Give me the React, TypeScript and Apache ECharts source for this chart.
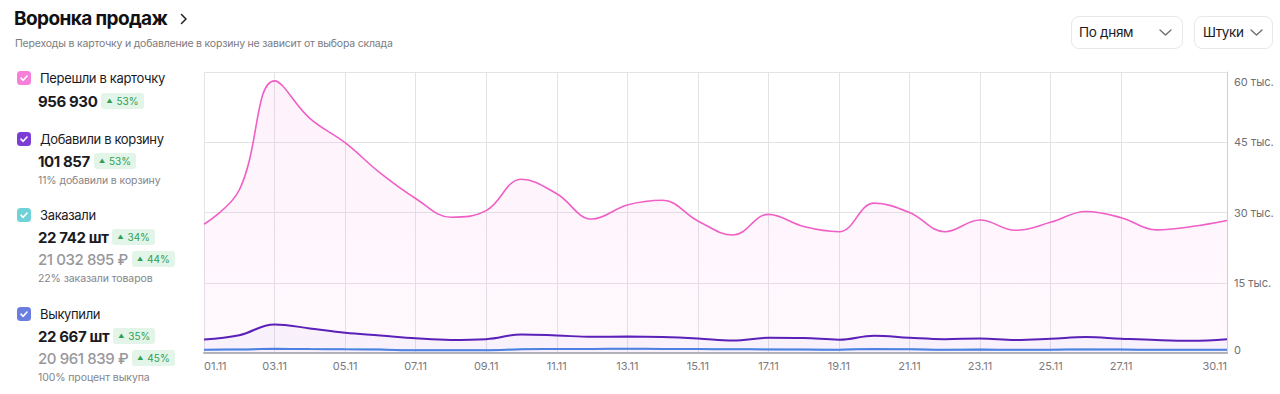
import React, { useEffect, useRef } from "react";
import * as echarts from "echarts";

const categories = [
  "01.11", "02.11", "03.11", "04.11", "05.11", "06.11", "07.11", "08.11", "09.11", "10.11",
  "11.11", "12.11", "13.11", "14.11", "15.11", "16.11", "17.11", "18.11", "19.11", "20.11",
  "21.11", "22.11", "23.11", "24.11", "25.11", "26.11", "27.11", "28.11", "29.11", "30.11",
];

const visitedCard = [
  27500, 34800, 58100, 50100, 44900, 38400, 33000, 29000, 30400, 37100,
  34000, 28600, 31600, 32600, 28200, 25200, 29600, 27000, 25900, 32000,
  30000, 25900, 28400, 26200, 27900, 30200, 28900, 26300, 27000, 28300,
];

const addedToCart = [
  2900, 3800, 6100, 5250, 4300, 3750, 3150, 2800, 2950, 3950,
  3750, 3450, 3500, 3400, 3100, 2650, 3250, 3200, 2850, 3700,
  3250, 2950, 3100, 2800, 3050, 3400, 3050, 2750, 2600, 2950,
];

const ordered = [
  720, 750, 900, 850, 800, 750, 600, 600, 620, 800,
  850, 880, 900, 880, 850, 800, 780, 750, 720, 850,
  800, 720, 740, 700, 720, 780, 740, 700, 680, 700,
];

const bought = [
  710, 740, 890, 840, 790, 740, 590, 600, 610, 790,
  840, 870, 890, 870, 840, 790, 770, 740, 710, 840,
  790, 710, 730, 700, 710, 770, 730, 690, 670, 690,
];

const yTicks = [0, 15000, 30000, 45000, 60000];

const FONT = "Inter, 'Noto Sans', sans-serif";

const showIdx = (i: number) => (i % 2 === 0 && i <= 26) || i === 29;

function Chart() {
  const ref = useRef<HTMLDivElement>(null);
  useEffect(() => {
    if (!ref.current) return;
    const chart = echarts.init(ref.current, undefined, { renderer: "svg" });
    chart.setOption({
      animation: false,
      textStyle: { fontFamily: FONT },
      grid: { left: 204, right: 53, top: 72, bottom: 41 },
      xAxis: {
        type: "category",
        data: categories,
        boundaryGap: false,
        axisLine: { show: true, lineStyle: { color: "#b5b5b8", width: 2 } },
        axisTick: { show: false },
        axisLabel: {
          interval: (i: number) => showIdx(i),
          color: "#7a7a80",
          fontSize: 11,
          margin: 7,
          fontFamily: FONT,
          alignMinLabel: "left",
          alignMaxLabel: "right",
        },
        splitLine: {
          show: true,
          interval: (i: number) => showIdx(i) && i !== 29,
          lineStyle: { color: "#e3e3e6", width: 1 },
        },
      },
      yAxis: {
        type: "value",
        position: "right",
        min: yTicks[0],
        max: yTicks[yTicks.length - 1],
        interval: 15000,
        axisLine: { show: true, lineStyle: { color: "#cfcfd3", width: 1 } },
        axisTick: { show: false },
        splitLine: { show: true, lineStyle: { color: "#e3e3e6", width: 1 } },
        axisLabel: {
          color: "#6f6f75",
          fontSize: 11,
          margin: 7,
          fontFamily: FONT,
          formatter: (v: number) => {
            if (v === 0) return "{bot|0}";
            if (v === 60000) return "{top|60 тыс.}";
            return v / 1000 + " тыс.";
          },
          rich: {
            top: { padding: [20, 0, 0, 0], color: "#6f6f75", fontSize: 11, fontFamily: FONT },
            bot: { padding: [0, 0, 7, 0], color: "#6f6f75", fontSize: 11, fontFamily: FONT },
          },
        },
      },
      series: [
        {
          name: "Перешли в карточку",
          type: "line",
          data: visitedCard,
          smooth: 0.4,
          symbol: "none",
          lineStyle: { color: "#ef5fc6", width: 1.6 },
          itemStyle: { color: "#ef5fc6" },
          areaStyle: {
            color: new echarts.graphic.LinearGradient(0, 0, 0, 1, [
              { offset: 0, color: "rgba(245,120,215,0.14)" },
              { offset: 1, color: "rgba(245,120,215,0.06)" },
            ]),
          },
          z: 2,
        },
        {
          name: "Добавили в корзину",
          type: "line",
          data: addedToCart,
          smooth: 0.4,
          symbol: "none",
          lineStyle: { color: "#5b20b8", width: 2 },
          itemStyle: { color: "#5b20b8" },
          areaStyle: { color: "rgba(150,110,225,0.08)" },
          z: 3,
        },
        {
          name: "Заказали",
          type: "line",
          data: ordered,
          smooth: 0.4,
          symbol: "none",
          lineStyle: { color: "#62cdd4", width: 1.5 },
          itemStyle: { color: "#62cdd4" },
          z: 4,
        },
        {
          name: "Выкупили",
          type: "line",
          data: bought,
          smooth: 0.4,
          symbol: "none",
          lineStyle: { color: "#4f7fe2", width: 2 },
          itemStyle: { color: "#4f7fe2" },
          z: 5,
        },
      ],
    });
    return () => chart.dispose();
  }, []);
  return <div ref={ref} style={{ position: "absolute", left: 0, top: 0, width: 1280, height: 394 }} />;
}

function Check({ color, top }: { color: string; top: number }) {
  return (
    <div
      style={{
        position: "absolute",
        left: 17,
        top: top - 7,
        width: 14,
        height: 14,
        borderRadius: 3.5,
        background: color,
      }}
    >
      <svg width="14" height="14" viewBox="0 0 14 14" style={{ display: "block" }}>
        <polyline points="4,7.2 6.2,9.3 10,5" fill="none" stroke="#fff" strokeWidth="1.6" strokeLinecap="round" strokeLinejoin="round" />
      </svg>
    </div>
  );
}

function Badge({ text }: { text: string }) {
  return (
    <div
      style={{
        height: 16,
        padding: "0 5px",
        marginLeft: 4,
        borderRadius: 3,
        background: "#e2f5e8",
        color: "#2f9f55",
        fontSize: 10,
        lineHeight: "16px",
        display: "flex",
        alignItems: "center",
        gap: 4,
        whiteSpace: "nowrap",
        letterSpacing: 0,
        fontWeight: 400,
      }}
    >
      <span style={{ fontSize: 6 }}>▲</span>
      <span>{text}</span>
    </div>
  );
}

function Txt({ children, left, top, size, weight, color, ls }: any) {
  return (
    <div
      style={{
        position: "absolute",
        left,
        top: top - size * 0.65,
        fontSize: size,
        lineHeight: size * 1.3 + "px",
        fontWeight: weight || 400,
        color: color || "#1b1b1f",
        whiteSpace: "nowrap",
        letterSpacing: ls || 0,
      }}
    >
      {children}
    </div>
  );
}

function ValueRow({ value, badge, top, gray }: { value: string; badge: string; top: number; gray?: boolean }) {
  return (
    <div
      style={{
        position: "absolute",
        left: 38,
        top: top - 9,
        height: 18,
        display: "flex",
        alignItems: "center",
        whiteSpace: "nowrap",
      }}
    >
      <span
        style={{
          fontSize: 15,
          fontWeight: gray ? 500 : 700,
          color: gray ? "#97979c" : "#1b1b1f",
          letterSpacing: -0.4,
        }}
      >
        {value}
      </span>
      <Badge text={badge} />
    </div>
  );
}

function Chevron({ left, top }: { left: number; top: number }) {
  return (
    <svg width="13" height="7" viewBox="0 0 13 7" style={{ position: "absolute", left, top }}>
      <polyline points="1,1 6.5,6 12,1" fill="none" stroke="#6b6b70" strokeWidth="1.3" strokeLinecap="round" strokeLinejoin="round" />
    </svg>
  );
}

export default function App() {
  return (
    <div
      style={{
        position: "absolute",
        left: 0,
        top: 0,
        width: 1280,
        height: 394,
        background: "#fff",
        fontFamily: FONT,
        overflow: "hidden",
      }}
    >
      <Chart />
      <Txt left={14} top={19} size={19} weight={700} color="#111114" ls={-0.6}>Воронка продаж</Txt>
      <svg width="8" height="12" viewBox="0 0 8 12" style={{ position: "absolute", left: 180, top: 13 }}>
        <polyline points="1.5,1.5 6,6 1.5,10.5" fill="none" stroke="#222" strokeWidth="1.5" strokeLinecap="round" strokeLinejoin="round" />
      </svg>
      <Txt left={15} top={44} size={10.5} color="#7b7b80" ls={-0.2}>Переходы в карточку и добавление в корзину не зависит от выбора склада</Txt>

      <div style={{ position: "absolute", left: 1071, top: 16, width: 112, height: 33, border: "1px solid #e8e8ea", borderRadius: 8, boxSizing: "border-box" }} />
      <Txt left={1079} top={33} size={13.5} color="#1b1b1f" ls={-0.3}>По дням</Txt>
      <Chevron left={1159} top={29} />
      <div style={{ position: "absolute", left: 1194, top: 16, width: 79, height: 33, border: "1px solid #e8e8ea", borderRadius: 8, boxSizing: "border-box" }} />
      <Txt left={1203} top={33} size={13.5} color="#1b1b1f" ls={-0.4}>Штуки</Txt>
      <Chevron left={1250} top={29} />

      <Check color="#f57fd9" top={78} />
      <Txt left={40} top={78} size={13} ls={-0.35}>Перешли в карточку</Txt>
      <ValueRow value="956 930" badge="53%" top={101} />

      <Check color="#7b3dd4" top={139} />
      <Txt left={40} top={139} size={13} ls={-0.35}>Добавили в корзину</Txt>
      <ValueRow value="101 857" badge="53%" top={161} />
      <Txt left={38} top={181} size={10.5} color="#85858a" ls={-0.1}>11% добавили в корзину</Txt>

      <Check color="#6fd2d9" top={215} />
      <Txt left={40} top={215} size={13} ls={-0.35}>Заказали</Txt>
      <ValueRow value="22 742 шт" badge="34%" top={237} />
      <ValueRow value="21 032 895 ₽" badge="44%" top={259} gray />
      <Txt left={38} top={279} size={10.5} color="#85858a" ls={-0.1}>22% заказали товаров</Txt>

      <Check color="#6a7ee2" top={314} />
      <Txt left={40} top={314} size={13} ls={-0.35}>Выкупили</Txt>
      <ValueRow value="22 667 шт" badge="35%" top={336} />
      <ValueRow value="20 961 839 ₽" badge="45%" top={358} gray />
      <Txt left={38} top={378} size={10.5} color="#85858a" ls={-0.1}>100% процент выкупа</Txt>
    </div>
  );
}
